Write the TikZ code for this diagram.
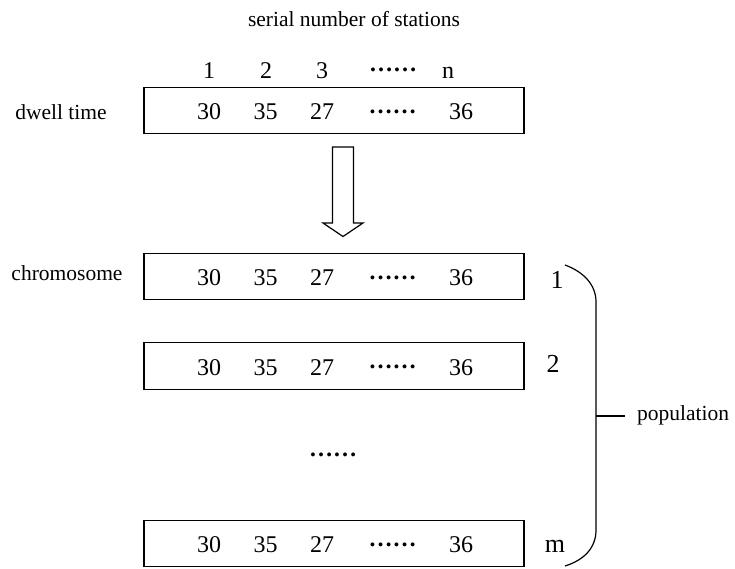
\documentclass[tikz,border=0pt]{standalone}
\usepackage{fontspec}
\setmainfont{Liberation Serif}
% six heavy dots raised to sit at the middle of the digits
\newcommand\sixdots{\raisebox{6.5pt}{\bfseries ……}}
\begin{document}
\begin{tikzpicture}[x=1pt,y=-1pt,
  rowbox/.style={draw,line width=1.2pt,minimum width=380pt,minimum height=46.5pt,inner sep=0pt},
  num/.style={anchor=base,inner sep=0pt,font=\fontsize{24}{28}\selectfont},
  side/.style={anchor=base,inner sep=0pt,font=\fontsize{26}{30}\selectfont},
  lbl/.style={anchor=base,inner sep=0pt,font=\fontsize{21.5}{25}\selectfont},
  line/.style={line width=1.2pt}]
\useasboundingbox (0,0) rectangle (735,568);

% header
\node[lbl] (title) at (354,26) {serial number of stations};
\node[num] (c1) at (209,78) {1};
\node[num] (c2) at (266,78) {2};
\node[num] (c3) at (322,78) {3};
\node[num] (cd) at (393,78) {\sixdots};
\node[num] (cn) at (448,78) {n};

% dwell time row
\node[lbl] (dwell) at (61,119) {dwell time};
\node[rowbox] (b0) at (334,110.5) {};

% chromosome rows
\node[lbl] (chrom) at (67,280) {chromosome};
\node[rowbox] (b1) at (334,276.5) {};
\node[rowbox] (b2) at (334,366) {};
\node[rowbox] (b3) at (334,543.5) {};

% entries of every row
\foreach \b in {b0,b1,b2,b3}{
  \node[num] at ([yshift=-9pt]\b.center -| 209,0) {30};
  \node[num] at ([yshift=-9pt]\b.center -| 265.5,0) {35};
  \node[num] at ([yshift=-9pt]\b.center -| 322,0) {27};
  \node[num] at ([yshift=-9pt]\b.center -| 392.5,0) {\sixdots};
  \node[num] at ([yshift=-9pt]\b.center -| 461,0) {36};
}

\node[num] (vdots) at (333,463) {\sixdots};

% row indices
\node[side] (i1) at (557,288) {1};
\node[side] (i2) at (553,372) {2};
\node[side] (im) at (555,552) {m};

% hollow arrow from the dwell times to the chromosomes
\draw[line] (332.5,147) -- (353.5,147) -- (353.5,223) -- (363,223)
  -- (343,236.5) -- (323,223) -- (332.5,223) -- cycle;

% brace grouping the chromosomes into the population
\coordinate (bt) at (565,265);
\coordinate (bb) at (565,566);
\coordinate (bm) at (596,416);
\node[lbl,anchor=base west] (pop) at (637,420) {population};
\draw[line] (bt) .. controls (584,272) and (596,285) .. (596,302)
  -- (596,530) .. controls (596,548) and (584,560) .. (bb);
\draw[line] (bm) -- (625,416);
\end{tikzpicture}
\end{document}
